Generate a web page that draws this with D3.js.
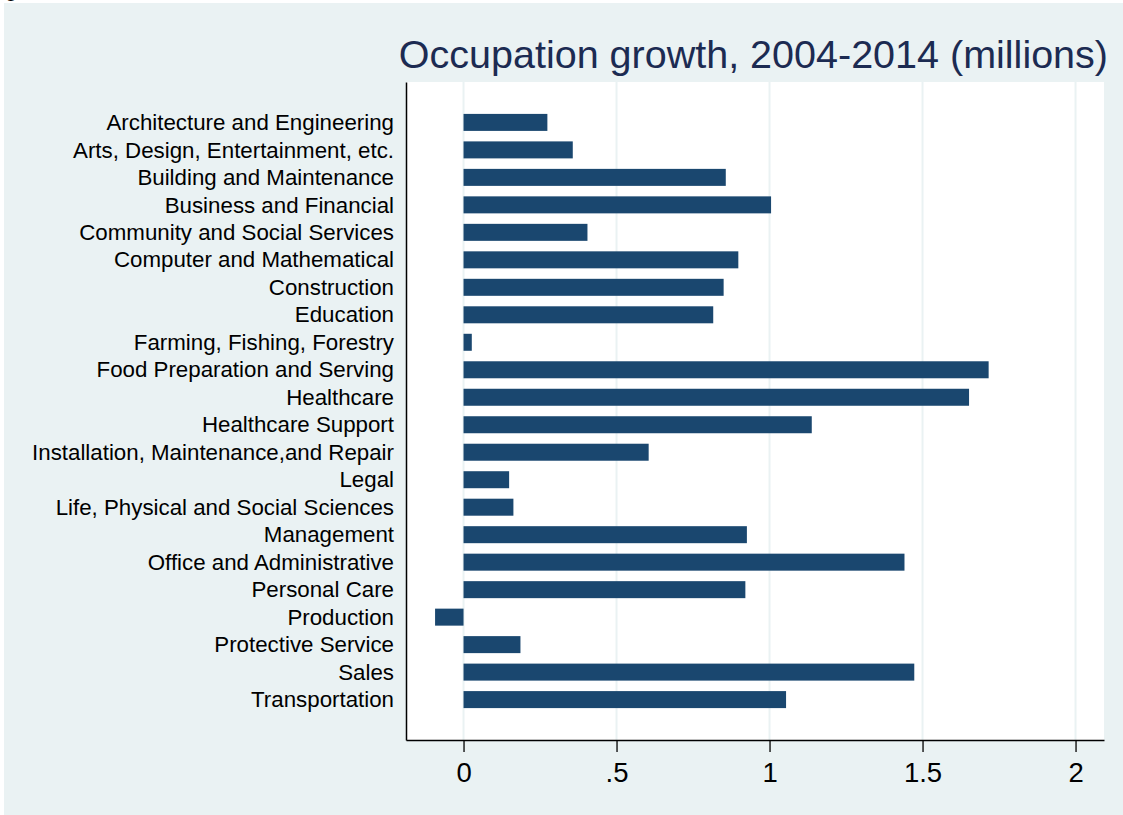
<!DOCTYPE html>
<html>
<head>
<meta charset="utf-8">
<script src="https://cdnjs.cloudflare.com/ajax/libs/d3/7.8.5/d3.min.js"></script>
<style>
  body { margin: 0; background: #fff; }
  svg { display: block; font-family: "Liberation Sans", Arial, Helvetica, sans-serif; }
</style>
</head>
<body>
<svg id="chart"></svg>
<script>
// Dados do grafico
var categories = [
  "Architecture and Engineering",
  "Arts, Design, Entertainment, etc.",
  "Building and Maintenance",
  "Business and Financial",
  "Community and Social Services",
  "Computer and Mathematical",
  "Construction",
  "Education",
  "Farming, Fishing, Forestry",
  "Food Preparation and Serving",
  "Healthcare",
  "Healthcare Support",
  "Installation, Maintenance,and Repair",
  "Legal",
  "Life, Physical and Social Sciences",
  "Management",
  "Office and Administrative",
  "Personal Care",
  "Production",
  "Protective Service",
  "Sales",
  "Transportation"
];
var growth = [0.274, 0.357, 0.857, 1.005, 0.405, 0.898, 0.850, 0.816, 0.027, 1.716,
              1.652, 1.138, 0.605, 0.149, 0.163, 0.926, 1.441, 0.921, -0.093, 0.186,
              1.473, 1.054];
var xTicks = [0, 0.5, 1, 1.5, 2];
var title = "Occupation growth, 2004-2014 (millions)";

var W = 1123, H = 815;
var plot = {left: 406, right: 1104, top: 82, bottom: 740};
var barHeight = 17;

var svg = d3.select("#chart").attr("width", W).attr("height", H);

// fundo (ltbluishgray)
svg.append("rect")
  .attr("x", 4).attr("y", 3)
  .attr("width", W - 4).attr("height", H - 3)
  .attr("fill", "#eaf2f3");

// pedaco de texto cortado no topo (vem da pagina de origem)
svg.append("text")
  .attr("x", 5).attr("y", -4)
  .style("font-size", "22px")
  .attr("fill", "#000")
  .text("g");

// area do grafico
svg.append("rect")
  .attr("x", plot.left).attr("y", plot.top)
  .attr("width", plot.right - plot.left).attr("height", plot.bottom - plot.top)
  .attr("fill", "#fff");

var xScale = d3.scaleLinear()
  .domain([-0.188, 2.093])
  .range([plot.left, plot.right]);

var yScale = d3.scalePoint()
  .domain(categories)
  .range([plot.top, plot.bottom])
  .padding(1.47);

// linhas de grade
svg.append("g").selectAll("line")
  .data(xTicks)
  .enter()
  .append("line")
  .attr("x1", function(d) { return xScale(d); })
  .attr("x2", function(d) { return xScale(d); })
  .attr("y1", plot.top)
  .attr("y2", plot.bottom)
  .attr("stroke", "#eaf2f3")
  .attr("stroke-width", 2);

// barras
svg.append("g").selectAll("rect")
  .data(growth)
  .enter()
  .append("rect")
  .attr("x", function(d) { return xScale(Math.min(0, d)); })
  .attr("y", function(d, i) { return yScale(categories[i]) - barHeight / 2; })
  .attr("width", function(d) { return Math.abs(xScale(d) - xScale(0)); })
  .attr("height", barHeight)
  .attr("fill", "#1a476f");

// eixo x
var xAxis = svg.append("g")
  .attr("transform", "translate(0," + plot.bottom + ")")
  .call(d3.axisBottom(xScale)
    .tickValues(xTicks)
    .tickSize(12)
    .tickSizeOuter(0)
    .tickPadding(10)
    .tickFormat(function(d) { return d === 0.5 ? ".5" : (d === 1.5 ? "1.5" : String(d)); }));
xAxis.selectAll("text")
  .style("font-size", "27.5px")
  .attr("fill", "#000");
xAxis.selectAll("line").attr("stroke", "#000").attr("stroke-width", 1.3);
xAxis.select(".domain").attr("stroke", "#000").attr("stroke-width", 1.5);

// eixo y
var yAxis = svg.append("g")
  .attr("transform", "translate(" + plot.left + ",0)")
  .call(d3.axisLeft(yScale).tickSize(0).tickSizeOuter(0).tickPadding(12));
yAxis.selectAll("text")
  .style("font-size", "22.3px")
  .attr("fill", "#000");
yAxis.select(".domain").attr("stroke", "#000").attr("stroke-width", 1.5);

// titulo
svg.append("text")
  .attr("x", 1108)
  .attr("y", 68)
  .attr("text-anchor", "end")
  .style("font-size", "39.5px")
  .attr("fill", "#1c2b52")
  .text(title);
</script>
</body>
</html>
